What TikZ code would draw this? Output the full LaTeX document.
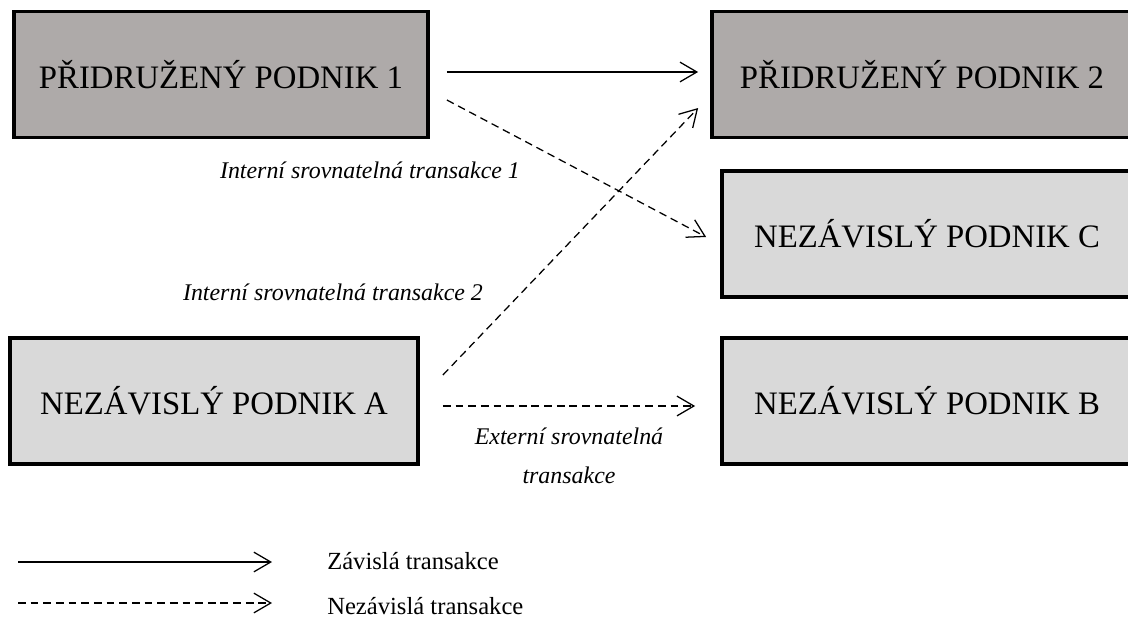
\documentclass[tikz,border=0pt]{standalone}
\usepackage{fontspec}
\setmainfont{Liberation Serif}
\usetikzlibrary{arrows.meta, positioning, calc}
\definecolor{darkbox}{RGB}{174,170,169}
\definecolor{lightbox}{RGB}{217,217,217}

\begin{document}
\begin{tikzpicture}[x=0.025cm,y=-0.025cm,
  firm/.style={draw,line width=2.6pt,minimum height=3.15cm,inner sep=0pt,font=\fontsize{23.3}{26}\selectfont},
  dep/.style={line width=0.9pt,-{Straight Barb[length=12pt,width=14pt,line width=0.9pt]}},
  indep/.style={dep,dash pattern=on 5.5pt off 3.5pt},
  lbl/.style={font=\fontsize{17}{28}\selectfont\itshape,inner sep=0pt,align=center},
  leg/.style={font=\fontsize{17.5}{20}\selectfont,inner sep=0pt,anchor=west}]
\useasboundingbox (0,0) rectangle (1128,639);

\node[firm,fill=darkbox,minimum width=10.35cm] (p1) at (221,74.5){PŘIDRUŽENÝ PODNIK 1};
\node[firm,fill=darkbox,minimum width=10.5cm] (p2) at (922,74.5){PŘIDRUŽENÝ PODNIK 2};
\node[firm,fill=lightbox,minimum width=10.25cm] (c) at (927,234){NEZÁVISLÝ PODNIK C};
\node[firm,fill=lightbox,minimum width=10.2cm] (a) at (214,401){NEZÁVISLÝ PODNIK A};
\node[firm,fill=lightbox,minimum width=10.25cm] (b) at (927,401){NEZÁVISLÝ PODNIK B};

\draw[dep] ($(p1.east)+(17,-2.5)$) to ($(p2.west)+(-12,-2.5)$);
\draw[indep] ($(p1.east)+(17,25.5)$) to ($(c.west)+(-14,3)$);
\draw[indep] ($(a.east)+(23,-26)$) to ($(p2.west)+(-12,33.5)$);
\draw[indep] ($(a.east)+(23,5)$) to ($(b.west)+(-25,5)$);

\node[lbl] (int1) at (370,170){Interní srovnatelná transakce 1};
\node[lbl] (int2) at (333,292){Interní srovnatelná transakce 2};
\node[lbl] (ext) at (569,456){Externí srovnatelná\\transakce};

\coordinate (zs) at (18,562);
\coordinate (zt) at (272,562);
\coordinate (ns) at (18,603);
\coordinate (nt) at (272,603);
\draw[dep] (zs) to (zt);
\draw[indep] (ns) to (nt);
\node[leg] (zlab) at (327,561){Závislá transakce};
\node[leg] (nlab) at (327,606){Nezávislá transakce};
\end{tikzpicture}
\end{document}
